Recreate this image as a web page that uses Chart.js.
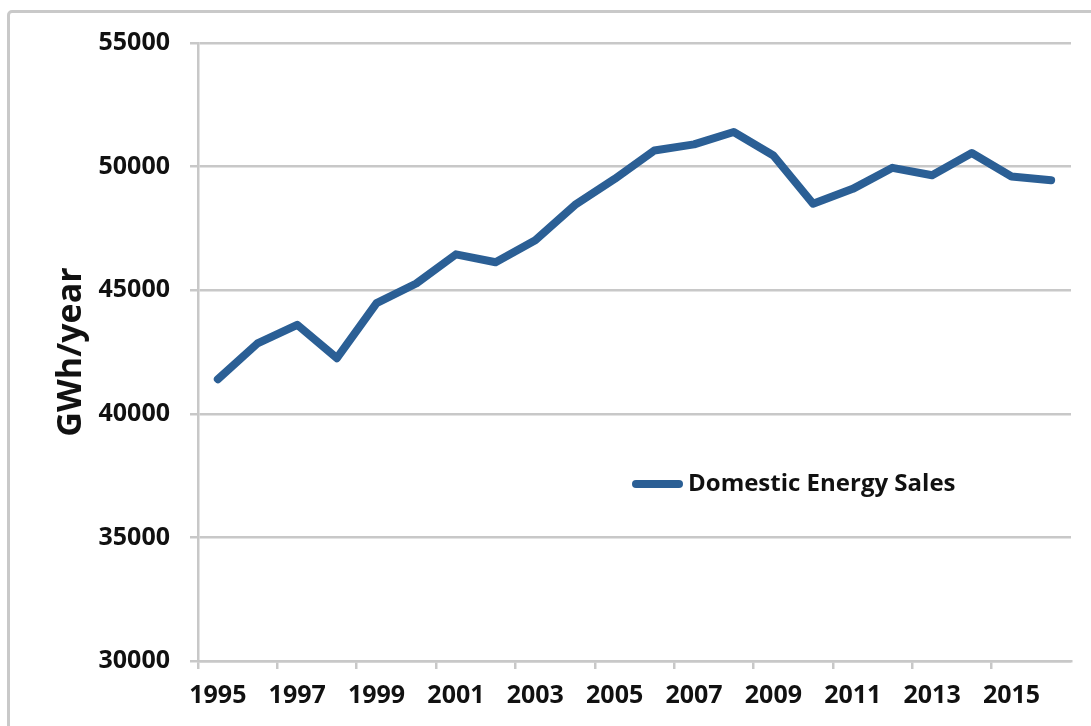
<!DOCTYPE html>
<html>
<head>
<meta charset="utf-8">
<script src="https://cdn.jsdelivr.net/npm/chart.js@4/dist/chart.umd.min.js"></script>
<style>
  html, body { margin: 0; padding: 0; background: #ffffff; overflow: hidden; }
  #wrap { position: relative; width: 1091px; height: 726px; }
  #frame { position: absolute; left: 7px; top: 10px; width: 1200px; height: 900px;
           border: 3px solid #c9c9c9; border-radius: 5px; pointer-events: none; }
  canvas { position: absolute; left: 0; top: 0; }
</style>
</head>
<body>
<div id="wrap">
  <canvas id="c" width="1091" height="726"></canvas>
  <div id="frame"></div>
</div>
<script>
const years = ['1995','1996','1997','1998','1999','2000','2001','2002','2003','2004','2005',
               '2006','2007','2008','2009','2010','2011','2012','2013','2014','2015','2016'];
const domesticSales = [41400, 42850, 43600, 42250, 44480, 45270, 46450, 46130, 47020, 48450, 49500,
                       50650, 50900, 51400, 50450, 48500, 49100, 49950, 49650, 50550, 49600, 49450];
const seriesLabel = 'Domestic Energy Sales';
const yAxisTitle = 'GWh/year';
const yMin = 30000, yMax = 55000, yStep = 5000;

const FONT = "'Open Sans', 'Liberation Sans', sans-serif";
const GRID = '#c8c8c8';
const LINE = '#2b5f95';

const legendPlugin = {
  id: 'insideLegend',
  afterDatasetsDraw(chart) {
    const ctx = chart.ctx;
    const ds = chart.data.datasets[0];
    const x0 = 632, x1 = 683, y = 484;
    ctx.save();
    ctx.strokeStyle = ds.borderColor;
    ctx.lineWidth = 8;
    ctx.lineCap = 'round';
    ctx.beginPath();
    ctx.moveTo(x0 + 4, y);
    ctx.lineTo(x1 - 4, y);
    ctx.stroke();
    ctx.fillStyle = '#111111';
    ctx.font = "bold 24px " + FONT;
    ctx.textBaseline = 'middle';
    ctx.textAlign = 'left';
    ctx.fillText(ds.label, 688, y);
    ctx.restore();
  }
};

new Chart(document.getElementById('c'), {
  type: 'line',
  data: {
    labels: years,
    datasets: [{
      label: seriesLabel,
      data: domesticSales,
      borderColor: LINE,
      backgroundColor: LINE,
      borderWidth: 8,
      pointRadius: 0,
      tension: 0,
      borderJoinStyle: 'round',
      borderCapStyle: 'round',
      fill: false
    }]
  },
  options: {
    responsive: false,
    animation: false,
    devicePixelRatio: 1,
    layout: { padding: { top: 43, right: 20, bottom: 0, left: 0 } },
    plugins: { legend: { display: false }, tooltip: { enabled: false } },
    scales: {
      x: {
        type: 'category',
        offset: true,
        afterFit(scale) { scale.height = 65; },
        grid: {
          offset: true,
          drawOnChartArea: false,
          drawTicks: true,
          tickLength: 8,
          lineWidth: 2.5,
          color: (c) => (c.index % 2 === 0 ? GRID : 'rgba(0,0,0,0)')
        },
        border: { display: true, color: GRID, width: 2.5 },
        ticks: {
          autoSkip: false,
          maxRotation: 0,
          minRotation: 0,
          padding: 12,
          color: '#111111',
          font: { family: FONT, size: 25, weight: 'bold', lineHeight: 1.2 },
          callback: (v, i) => (i % 2 === 0 ? years[i] : '')
        }
      },
      y: {
        min: yMin,
        max: yMax,
        afterFit(scale) { scale.width = 198; },
        grid: { color: GRID, lineWidth: 2.5, tickLength: 8, drawTicks: true },
        border: { display: true, color: GRID, width: 2.5 },
        ticks: {
          stepSize: yStep,
          padding: 20,
          color: '#111111',
          font: { family: FONT, size: 25, weight: 'bold' },
          callback: (v) => String(v)
        },
        title: {
          display: true,
          text: yAxisTitle,
          color: '#111111',
          padding: { top: 54, bottom: 0 },
          font: { family: FONT, size: 34, weight: 'bold', lineHeight: 1 }
        }
      }
    }
  },
  plugins: [legendPlugin]
});
</script>
</body>
</html>
